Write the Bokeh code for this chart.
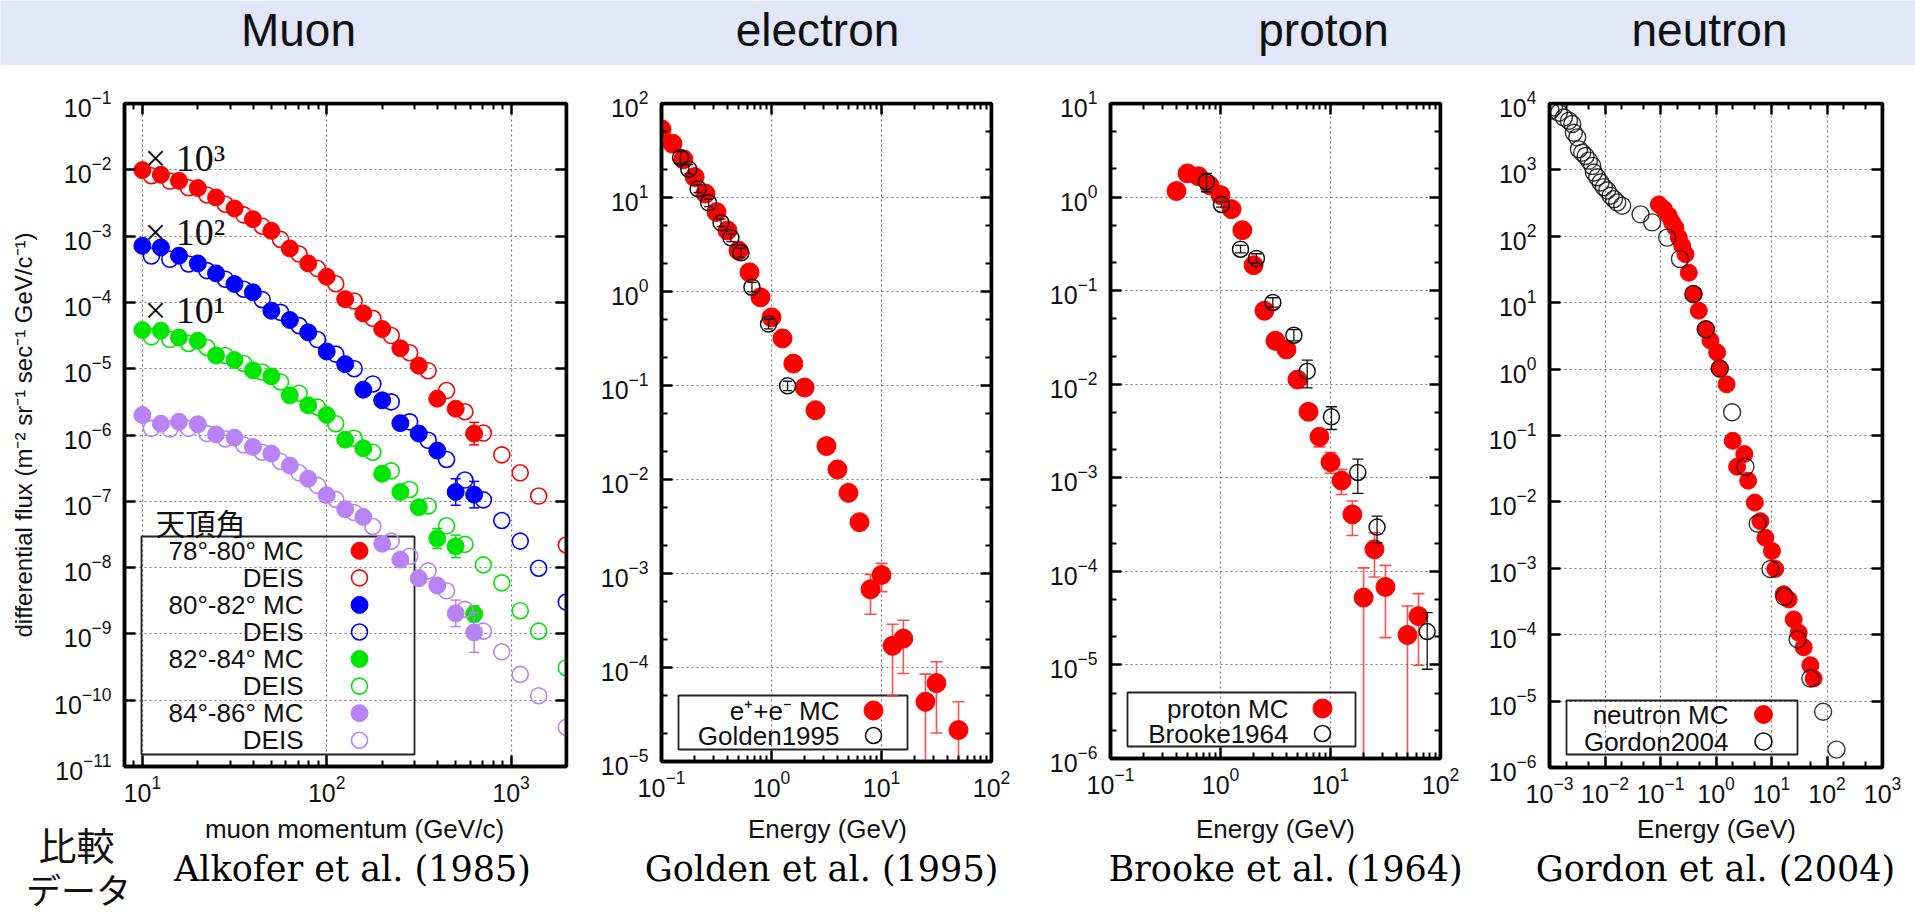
from bokeh.plotting import figure
from bokeh.models import Range1d, LinearScale, LogAxis, FixedTicker, Label
from bokeh.layouts import column, row
from bokeh.core.properties import value
from bokeh.embed import file_html
from bokeh.resources import INLINE

# ---------------------------------------------------------------- data
panel_titles = ["Muon", "electron", "proton", "neutron"]
title_x = [298, 817, 1323, 1709]
x_titles = ["muon momentum (GeV/c)", "Energy (GeV)", "Energy (GeV)", "Energy (GeV)"]
x_title_x = [354, 827, 1275, 1716]
citations = ["Alkofer et al. (1985)", "Golden et al. (1995)",
             "Brooke et al. (1964)", "Gordon et al. (2004)"]
citation_x = [352, 821, 1285, 1715]
side_note = ["比較", "データ"]

# --- Muon: momentum (GeV/c), flux for 4 zenith-angle bins (scaled x10^3, x10^2, x10^1, x1)
muon_mc_p = [10.0, 12.6, 15.8, 20.0, 25.1, 31.6, 39.8, 50.1, 63.1, 79.4,
             100, 126, 158, 200, 251, 316, 398, 501, 631]
muon_deis_p = [11.2, 14.1, 17.8, 22.4, 28.2, 35.5, 44.7, 56.2, 70.8, 89.1,
               112, 141, 178, 224, 282, 355, 447, 562, 708, 891, 1122, 1413, 1995]

mu78_mc = [9.89e-3, 8.41e-3, 6.82e-3, 5.30e-3, 3.83e-3, 2.61e-3, 1.80e-3, 1.20e-3, 6.52e-4, 3.87e-4,
           2.44e-4, 1.12e-4, 6.82e-5, 3.96e-5, 2.03e-5, 1.11e-5, 3.53e-6, 2.49e-6, 1.05e-6]
mu78_mc_err = [0, 0, 0, 0, 0, 0, 0, 0, 0, 0, 0, 0, 0, 0, 0, 0, 0.05, 0.06, 0.17]
mu78_deis = [8.13e-3, 6.76e-3, 5.37e-3, 4.17e-3, 3.02e-3, 2.09e-3, 1.41e-3, 8.91e-4, 5.37e-4, 3.24e-4,
             1.91e-4, 1.05e-4, 5.75e-5, 3.16e-5, 1.74e-5, 9.33e-6, 4.68e-6, 2.24e-6, 1.07e-6, 5.01e-7,
             2.69e-7, 1.20e-7, 2.19e-8]

mu80_mc = [7.14e-4, 6.75e-4, 5.06e-4, 3.87e-4, 2.74e-4, 1.89e-4, 1.42e-4, 7.48e-5, 5.42e-5, 3.53e-5,
           1.82e-5, 1.17e-5, 4.82e-6, 3.33e-6, 1.51e-6, 1.05e-6, 5.82e-7, 1.38e-7, 1.26e-7]
mu80_mc_err = [0, 0, 0, 0, 0, 0, 0, 0, 0, 0, 0, 0, 0, 0, 0, 0, 0.05, 0.2, 0.2]
mu80_deis = [5.01e-4, 4.47e-4, 3.80e-4, 3.02e-4, 2.24e-4, 1.58e-4, 1.10e-4, 7.08e-5, 4.47e-5, 2.75e-5,
             1.66e-5, 1.00e-5, 5.89e-6, 3.16e-6, 1.58e-6, 8.32e-7, 4.27e-7, 2.09e-7, 1.05e-7, 5.13e-8,
             2.51e-8, 9.77e-9, 3.02e-9]

mu82_mc = [3.83e-5, 3.74e-5, 2.96e-5, 2.64e-5, 1.58e-5, 1.35e-5, 9.44e-6, 7.66e-6, 3.96e-6, 2.80e-6,
           2.00e-6, 8.51e-7, 6.31e-7, 2.60e-7, 1.38e-7, 8.13e-8, 2.75e-8, 2.09e-8, 2.00e-9]
mu82_mc_err = [0, 0, 0, 0, 0, 0, 0, 0, 0, 0, 0, 0, 0, 0, 0, 0, 0.15, 0.17, 0.12]
mu82_deis = [3.02e-5, 2.75e-5, 2.40e-5, 2.09e-5, 1.58e-5, 1.20e-5, 8.91e-6, 6.31e-6, 4.27e-6, 2.63e-6,
             1.48e-6, 8.91e-7, 5.50e-7, 2.88e-7, 1.51e-7, 8.51e-8, 4.27e-8, 2.24e-8, 1.10e-8, 5.89e-9,
             2.24e-9, 1.10e-9, 3.09e-10]

mu84_mc = [2.00e-6, 1.48e-6, 1.58e-6, 1.45e-6, 1.02e-6, 9.12e-7, 6.61e-7, 5.25e-7, 3.47e-7, 2.19e-7,
           1.23e-7, 7.59e-8, 5.82e-8, 2.29e-8, 1.32e-8, 6.92e-9, 5.37e-9, 2.04e-9, 1.05e-9]
mu84_mc_err = [0, 0, 0, 0, 0, 0, 0, 0, 0, 0, 0, 0, 0, 0, 0, 0, 0.06, 0.2, 0.3]
mu84_deis = [1.26e-6, 1.23e-6, 1.26e-6, 1.05e-6, 8.71e-7, 7.08e-7, 5.50e-7, 3.98e-7, 2.69e-7, 1.74e-7,
             1.07e-7, 6.76e-8, 4.17e-8, 2.51e-8, 1.48e-8, 8.91e-9, 4.47e-9, 2.34e-9, 1.10e-9, 5.37e-10,
             2.45e-10, 1.17e-10, 3.89e-11]

muon_legend = ["78°-80° MC", "DEIS", "80°-82° MC", "DEIS",
               "82°-84° MC", "DEIS", "84°-86° MC", "DEIS"]
muon_scale_labels = ["× 10³", "× 10²", "× 10¹"]
muon_scale_pos = [1.53e-2, 1.17e-3, 7.59e-5]

# --- electron (Golden 1995)
e_mc_E = [0.100, 0.126, 0.158, 0.200, 0.251, 0.316, 0.398, 0.501, 0.631, 0.794, 1.00, 1.26, 1.58,
          2.00, 2.51, 3.16, 3.98, 5.01, 6.31, 7.94, 10.0, 12.6, 15.8, 25.1, 31.6, 50.1]
e_mc_flux = [53.2, 37.4, 25.5, 16.5, 11.0, 7.00, 4.46, 2.73, 1.60, 0.867, 0.531, 0.317, 0.171,
             0.0951, 0.0546, 0.0227, 0.0128, 7.21e-3, 3.52e-3, 6.79e-4, 9.64e-4, 1.70e-4, 2.03e-4,
             4.32e-5, 6.82e-5, 2.16e-5]
e_mc_lo = [None, None, None, None, None, None, None, None, None, None, None, None, None,
           None, None, None, None, None, 2.9e-3, 3.68e-4, 6.41e-4, 5.0e-5, 8.63e-5,
           1e-8, 2.01e-5, 1e-8]
e_mc_hi = [None, None, None, None, None, None, None, None, None, None, None, None, None,
           None, None, None, None, None, 4.1e-3, 9.79e-4, 1.28e-3, 2.88e-4, 3.18e-4,
           8.51e-5, 1.15e-4, 4.32e-5]
golden_E = [0.149, 0.177, 0.215, 0.268, 0.348, 0.428, 0.527, 0.664, 0.940, 1.40]
golden_flux = [26.5, 20.0, 12.4, 8.79, 5.38, 3.72, 2.58, 1.11, 0.451, 0.0991]
golden_lo = [22.9, 17.8, 11.3, 8.0, 4.9, 3.39, 2.30, 0.99, 0.40, 0.088]
golden_hi = [30.7, 22.4, 13.6, 9.6, 5.9, 4.08, 2.89, 1.25, 0.51, 0.111]
e_legend = ["e⁺+e⁻ MC", "Golden1995"]

# --- proton (Brooke 1964)
p_mc_E = [0.398, 0.501, 0.631, 0.794, 1.00, 1.26, 1.58, 2.00, 2.51, 3.16, 3.98, 5.01, 6.31, 7.94,
          10.0, 12.6, 15.8, 20.0, 25.1, 31.6, 50.1, 63.1]
p_mc_flux = [1.16, 1.79, 1.67, 1.34, 1.05, 0.743, 0.443, 0.187, 0.0610, 0.0291, 0.0235, 0.0112,
             5.07e-3, 2.74e-3, 1.47e-3, 9.33e-4, 4.06e-4, 5.24e-5, 1.72e-4, 6.81e-5, 2.09e-5, 3.33e-5]
p_mc_lo = [None, None, None, None, None, None, None, None, None, None, None, None, None,
           2.14e-3, 1.12e-3, 6.64e-4, 2.42e-4, 1e-8, 8.71e-5, 1.96e-5, 1e-8, 9.91e-6]
p_mc_hi = [None, None, None, None, None, None, None, None, None, None, None, None, None,
           3.3e-3, 1.86e-3, 1.23e-3, 5.64e-4, 1.09e-4, 2.59e-4, 1.16e-4, 4.27e-5, 5.78e-5]
brooke_E = [0.746, 1.02, 1.52, 2.12, 2.99, 4.65, 6.14, 10.2, 17.7, 26.5, 75.7]
brooke_flux = [1.46, 0.834, 0.277, 0.221, 0.0748, 0.0334, 0.0138, 4.49e-3, 1.14e-3, 2.97e-4, 2.27e-5]
brooke_lo = [1.14, 0.779, 0.253, 0.197, 0.0667, 0.0291, 9.16e-3, 3.28e-3, 6.81e-4, 2.02e-4, 8.99e-6]
brooke_hi = [1.79, 0.893, 0.304, 0.248, 0.084, 0.0383, 0.0181, 5.74e-3, 1.58e-3, 3.90e-4, 3.62e-5]
p_legend = ["proton MC", "Brooke1964"]

# --- neutron (Gordon 2004)
n_mc_E = [0.0933, 0.115, 0.141, 0.162, 0.186, 0.214, 0.245, 0.282, 0.324, 0.398, 0.490, 0.646,
          0.794, 1.05, 1.17, 1.55, 2.00, 2.40, 3.24, 3.80, 5.01, 6.31, 7.76, 10.2, 11.7, 16.6,
          20.4, 25.1, 30.9, 38.0, 50.1, 57.5]
n_mc_flux = [302, 257, 204, 162, 135, 95.5, 72.4, 53.7, 28.2, 13.5, 7.59, 3.98, 2.69, 1.78, 1.02,
             0.589, 0.0832, 0.0339, 0.0525, 0.0209, 9.77e-3, 5.13e-3, 2.88e-3, 1.82e-3, 9.77e-4,
             4.07e-4, 3.39e-4, 1.70e-4, 1.07e-4, 6.46e-5, 3.47e-5, 2.19e-5]
gordon_E = [1.05e-3, 1.20e-3, 1.48e-3, 1.82e-3, 2.24e-3, 2.57e-3, 2.75e-3, 3.16e-3, 3.39e-3, 3.89e-3,
            4.47e-3, 5.13e-3, 5.89e-3, 6.31e-3, 7.24e-3, 8.32e-3, 9.55e-3, 0.0110, 0.0126, 0.0145,
            0.0166, 0.0204, 0.0437, 0.0708, 0.132, 0.224, 0.389, 0.661, 1.17, 1.95, 3.39, 5.62,
            9.55, 17.0, 29.5, 50.1, 85.1, 148]
gordon_flux = [7760, 8710, 7240, 6170, 5500, 4900, 3630, 3090, 2040, 1820, 1620, 1380, 1150, 912,
               776, 646, 550, 490, 407, 363, 324, 288, 214, 162, 95.5, 45.7, 13.5, 3.98, 1.02,
               0.224, 0.0339, 4.68e-3, 9.77e-4, 3.72e-4, 8.51e-5, 2.19e-5, 6.92e-6, 1.86e-6]
n_legend = ["neutron MC", "Gordon2004"]

# ---------------------------------------------------------------- style
RED, BLUE, GREEN, PURPLE = "#ff0000", "#0000ff", "#00e600", "#b884f5"
SANS = "Liberation Sans"
SERIF = "DejaVu Serif"
BANNER_H = 65
STRIP_H = 101
ROW_H = 913 - BANNER_H - STRIP_H


def dec(a, b):
    return [10.0 ** k for k in range(a, b + 1)]


def minors(a, b, mult):
    return [m * 10.0 ** k for k in range(a, b) for m in mult]


def style_axis(ax, maj, mn, labels=True):
    ax.ticker = FixedTicker(ticks=maj, minor_ticks=mn)
    ax.axis_line_width = 3.5
    ax.axis_line_color = "black"
    ax.major_tick_in = 11
    ax.major_tick_out = 0
    ax.minor_tick_in = 6
    ax.minor_tick_out = 0
    ax.major_tick_line_width = 2.5
    ax.minor_tick_line_width = 2.0
    ax.major_label_text_font = SANS
    ax.major_label_text_color = "#111111"
    if labels:
        ax.major_label_text_font_size = "25px"
    else:
        ax.major_label_text_font_size = "1px"
        ax.major_label_text_alpha = 0
        ax.major_label_standoff = 0
    ax.axis_label_text_font = SANS
    ax.axis_label_text_font_style = "normal"
    ax.axis_label_text_font_size = "26px"
    ax.axis_label_text_color = "#111111"


def panel(xr, yr, fw, fh, bl, br, bt, xmaj, xmn, ymaj, ymn, ylabel=None):
    p = figure(x_axis_type="log", y_axis_type="log", title_location=None,
               x_range=Range1d(*xr), y_range=Range1d(*yr),
               frame_width=fw, frame_height=fh,
               min_border_left=bl, min_border_right=br,
               min_border_top=bt, min_border_bottom=ROW_H - bt - fh,
               output_backend="svg", toolbar_location=None)
    p.outline_line_color = "black"
    p.outline_line_width = 3.5
    p.border_fill_color = "white"
    p.background_fill_color = "white"
    p.extra_x_ranges = {"px": Range1d(0, fw)}
    p.extra_y_ranges = {"px": Range1d(0, fh)}
    p.extra_x_scales = {"px": LinearScale()}
    p.extra_y_scales = {"px": LinearScale()}
    bx = p.below[0]
    ly = p.left[0]
    tx = LogAxis(fixed_location=yr[1])
    ry = LogAxis(fixed_location=xr[1])
    p.add_layout(tx, "above")
    p.add_layout(ry, "right")
    style_axis(bx, xmaj, xmn)
    style_axis(ly, ymaj, ymn)
    style_axis(tx, xmaj, xmn, labels=False)
    style_axis(ry, ymaj, ymn, labels=False)
    bx.major_label_standoff = 8
    ly.major_label_standoff = 13
    if ylabel:
        ly.axis_label = ylabel
        ly.axis_label_text_font_size = "24px"
        ly.axis_label_standoff = 14
    p.xgrid[0].ticker = FixedTicker(ticks=xmaj)
    p.ygrid[0].ticker = FixedTicker(ticks=ymaj)
    p.grid.grid_line_color = "#7a7a7a"
    p.grid.grid_line_dash = "2 3"
    p.grid.grid_line_width = 1.2
    return p


def legend_box(p, l, r, b, t):
    p.quad(left=[l], right=[r], bottom=[b], top=[t], fill_color=None,
           line_color="#222222", line_width=1.8, x_range_name="px", y_range_name="px")


def legend_row(p, label, tx, sx, y, color, filled, size, fs="26px"):
    p.text(x=[tx], y=[y], text=[label], text_align="right", text_baseline="middle",
           text_font=value(SANS), text_font_size=fs, text_color="#111111",
           x_range_name="px", y_range_name="px")
    if filled:
        p.scatter(x=[sx], y=[y], size=size, fill_color=color, line_color=color,
                  x_range_name="px", y_range_name="px")
    else:
        p.scatter(x=[sx], y=[y], size=size - 1, fill_color=None, line_color=color,
                  line_width=1.6, x_range_name="px", y_range_name="px")


def errbars(p, x, lo, hi, color, lw=1.5, cap=12, alpha=1.0):
    xs, ls, hs = [], [], []
    for a, l, h in zip(x, lo, hi):
        if l is not None:
            xs.append(a)
            ls.append(l)
            hs.append(h)
    p.segment(x0=xs, y0=ls, x1=xs, y1=hs, line_color=color, line_width=lw, line_alpha=alpha)
    p.scatter(xs, hs, marker="dash", size=cap, line_color=color, line_width=lw, line_alpha=alpha)
    p.scatter(xs, ls, marker="dash", size=cap, line_color=color, line_width=lw, line_alpha=alpha)


def strip_fig(h, bg):
    f = figure(width=1915, height=h, x_range=Range1d(0, 1915), y_range=Range1d(0, h),
               x_axis_location=None, y_axis_location=None, min_border=0, title_location=None,
               output_backend="svg", toolbar_location=None)
    f.background_fill_color = bg
    f.border_fill_color = bg
    f.outline_line_color = None
    f.grid.visible = False
    return f


# ---------------------------------------------------------------- banner (panel titles)
banner = strip_fig(BANNER_H, "#e2e8fa")
banner.text(x=title_x, y=[36, 36, 36, 36], text=panel_titles, text_align="center",
            text_baseline="middle", text_font=value(SANS),
            text_font_size="46px", text_color="#111111")

# ---------------------------------------------------------------- bottom strip (axis titles, refs)
bottom = strip_fig(STRIP_H, "white")
bottom.text(x=x_title_x, y=[85, 85, 85, 85], text=x_titles, text_align="center",
            text_baseline="middle", text_font=value(SANS), text_font_size="26px",
            text_color="#111111")
bottom.text(x=citation_x, y=[45, 45, 45, 45], text=citations, text_align="center",
            text_baseline="middle", text_font=value(SERIF), text_font_size="35px",
            text_color="black")
bottom.text(x=[76], y=[70], text=[side_note[0]], text_align="center", text_baseline="middle",
            text_font=value("Noto Sans CJK JP"), text_font_size="38px", text_color="#111111")
bottom.text(x=[78], y=[25], text=[side_note[1]], text_align="center", text_baseline="middle",
            text_font=value("Noto Sans CJK JP"), text_font_size="35px", text_color="#111111")

# ---------------------------------------------------------------- muon (frame top at y=96)
FW1, FH1 = 442, 663
pm = panel((8, 2000), (1e-11, 1e-1), FW1, FH1, 124, 24, 96 - BANNER_H,
           dec(1, 3), [8, 9] + minors(1, 3, range(2, 10)) + [2000],
           dec(-11, -1), [],
           ylabel="differential flux (m⁻² sr⁻¹ sec⁻¹ GeV/c⁻¹)")

legend_box(pm, 17, 290, 12, 230)
pm.text(x=[76], y=[245], text=["天頂角"], text_align="center", text_baseline="middle",
        text_font=value("Noto Sans CJK JP"), text_font_size="30px", text_color="#111111",
        x_range_name="px", y_range_name="px")

series = [(mu78_mc, mu78_mc_err, mu78_deis, RED), (mu80_mc, mu80_mc_err, mu80_deis, BLUE),
          (mu82_mc, mu82_mc_err, mu82_deis, GREEN), (mu84_mc, mu84_mc_err, mu84_deis, PURPLE)]
for i, (mc, err, deis, col) in enumerate(series):
    lo = [v / 10 ** e if e else None for v, e in zip(mc, err)]
    hi = [v * 10 ** e if e else None for v, e in zip(mc, err)]
    errbars(pm, muon_mc_p, lo, hi, col, lw=1.5, cap=10)
    pm.scatter(muon_mc_p, mc, size=17, fill_color=col, line_color=col)
    pm.scatter(muon_deis_p, deis, size=16, fill_color=None, line_color=col, line_width=1.6)
    legend_row(pm, muon_legend[2 * i], 179, 235, 215.7 - 27.06 * (2 * i), col, True, 17)
    legend_row(pm, muon_legend[2 * i + 1], 179, 235, 215.7 - 27.06 * (2 * i + 1), col, False, 17)

for lab, yv in zip(muon_scale_labels, muon_scale_pos):
    pm.add_layout(Label(x=10.3, y=yv, text=lab, text_font="Liberation Serif",
                        text_font_size="38px", text_baseline="middle", text_align="left",
                        text_color="#111111"))

# ---------------------------------------------------------------- electron (frame top at y=102)
FW2, FH2 = 330, 658
pe = panel((0.1, 100), (1e-5, 1e2), FW2, FH2, 71, 54, 102 - BANNER_H,
           dec(-1, 2), minors(-1, 2, range(2, 10)),
           dec(-5, 2), minors(-5, 2, [2, 5]))
legend_box(pe, 17, 246, 12, 66)
legend_row(pe, e_legend[0], 178, 212, 51, RED, True, 19)
legend_row(pe, e_legend[1], 178, 212, 26, "#111111", False, 17)
errbars(pe, e_mc_E, e_mc_lo, e_mc_hi, "#ff3030", lw=1.6, cap=12, alpha=0.85)
pe.scatter(e_mc_E, e_mc_flux, size=19, fill_color=RED, line_color=RED)
errbars(pe, golden_E, golden_lo, golden_hi, "#111111", lw=1.3, cap=9)
pe.scatter(golden_E, golden_flux, size=16, fill_color=None, line_color="#111111", line_width=1.5)

# ---------------------------------------------------------------- proton (frame top at y=103)
FW3, FH3 = 330, 655
pp = panel((0.1, 100), (1e-6, 1e1), FW3, FH3, 65, 40, 103 - BANNER_H,
           dec(-1, 2), minors(-1, 2, range(2, 10)),
           dec(-6, 1), minors(-6, 1, [2, 5]))
legend_box(pp, 17, 245, 12, 66)
legend_row(pp, p_legend[0], 178, 212, 50, RED, True, 19)
legend_row(pp, p_legend[1], 178, 212, 25, "#111111", False, 17)
errbars(pp, p_mc_E, p_mc_lo, p_mc_hi, "#ff3030", lw=1.6, cap=12, alpha=0.85)
pp.scatter(p_mc_E, p_mc_flux, size=19, fill_color=RED, line_color=RED)
errbars(pp, brooke_E, brooke_lo, brooke_hi, "#111111", lw=1.3, cap=11)
pp.scatter(brooke_E, brooke_flux, size=16, fill_color=None, line_color="#111111", line_width=1.5)

# ---------------------------------------------------------------- neutron (frame top at y=98)
FW4, FH4 = 333, 664
pn = panel((1e-3, 1e3), (1e-6, 1e4), FW4, FH4, 69, 33, 98 - BANNER_H,
           dec(-3, 3), minors(-3, 3, [2, 5]),
           dec(-6, 4), [])
legend_box(pn, 17, 248, 13, 67)
legend_row(pn, n_legend[0], 179, 214, 53, RED, True, 18)
legend_row(pn, n_legend[1], 179, 214, 26, "#111111", False, 18)
pn.scatter(n_mc_E, n_mc_flux, size=17, fill_color=RED, line_color=RED)
pn.scatter(gordon_E, gordon_flux, size=17, fill_color=None, line_color="#111111",
           line_width=1.4, line_alpha=0.85)

layout = column(banner, row(pm, pe, pp, pn, spacing=0), bottom, spacing=0)
open("out.html", "w").write(file_html(layout, INLINE))
